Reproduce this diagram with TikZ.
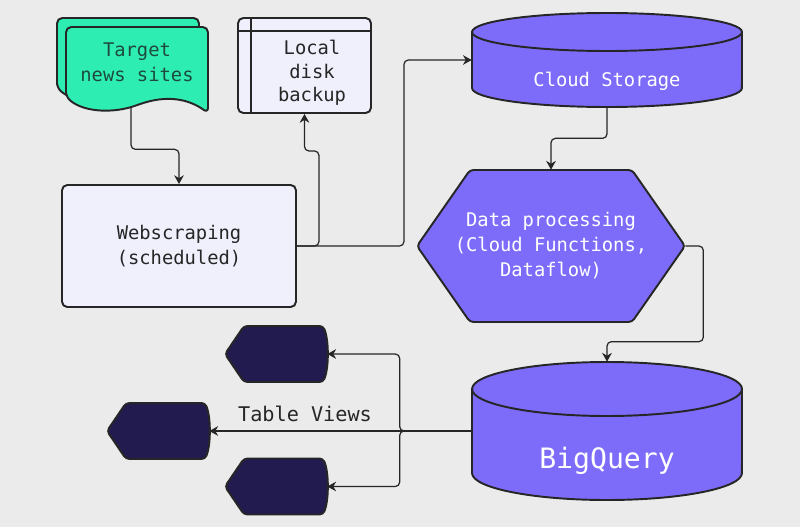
\documentclass[tikz,border=0pt]{standalone}
\usepackage{fontspec}
\setmainfont{DejaVu Sans Mono}
\usepackage{xcolor}
\usetikzlibrary{positioning,calc,arrows.meta}

\definecolor{bggray}{HTML}{EBEBEB}
\definecolor{mint}{HTML}{2EEDB3}
\definecolor{pine}{HTML}{1E4A3C}
\definecolor{lavender}{HTML}{EFF0FC}
\definecolor{violet}{HTML}{7D6CF9}
\definecolor{navy}{HTML}{211B50}
\definecolor{ink}{HTML}{262626}

\tikzset{
  txt/.style={align=center, text=ink, font=\fontsize{10.7}{14.2}\selectfont},
  wtxt/.style={txt, text=white},
  blk/.style={draw=ink, line width=1.1pt, rounded corners=3pt},
  flow/.style={draw=ink, line width=0.7pt, rounded corners=2.5pt}
}

\begin{document}
\begin{tikzpicture}[x=0.02cm, y=-0.02cm]
\fill[bggray] (0,0) rectangle (800,527);
\useasboundingbox (0,0) rectangle (800,527);

% shapes first
\begin{scope}[blk]
    % stacked pages
    \foreach \d in {9,0}
        \draw[fill=mint, shift={(-\d,-\d)}] (66,97) -- (66,27) -- (208,27) -- (208,113)
            .. controls (190,100) and (170,95) .. (140,104)
            .. controls (115,113) and (85,113) .. (66,97) -- cycle;
    % cylinders
    \foreach \t/\b/\r in {13/107/19, 362/500/27} {
        \draw[fill=violet, sharp corners] (472,\t+\r) -- (472,\b-\r)
            arc[start angle=180, end angle=360, x radius=2.7cm, y radius=\r*0.02cm]
            -- (742,\t+\r)
            arc[start angle=0, end angle=180, x radius=2.7cm, y radius=\r*0.02cm] -- cycle;
        \draw[sharp corners] (472,\t+\r)
            arc[start angle=180, end angle=360, x radius=2.7cm, y radius=\r*0.02cm];
    }
    % hexagon
    \draw[fill=violet, rounded corners=2pt] (417,246) -- (470,170) -- (632,170) -- (685,246)
        -- (632,322) -- (470,322) -- cycle;
    % table views
    \foreach \x/\y in {225/354, 107/431, 225/486.5}
        \draw[fill=navy, rounded corners=2pt] (\x,\y) -- (\x+19,\y-28) -- (\x+98,\y-28)
            .. controls (\x+104,\y-14) and (\x+104,\y+14) .. (\x+98,\y+28)
            -- (\x+19,\y+28) -- cycle;
\end{scope}

% nodes
\node[minimum width=2.84cm, minimum height=1.6cm] (target) at (137,67) {};
\node[txt, text=pine] (tgttxt) at (137,62) {Target\\news sites};

\node[blk, fill=lavender, minimum width=2.66cm, minimum height=1.9cm] (disk) at (304.5,65.5) {};
\draw[line width=1.1pt, ink] ($(disk.north west)+(14,0)$) -- ($(disk.south west)+(14,0)$)
    ($(disk.north west)+(0,14)$) -- ($(disk.north east)+(0,14)$);
\node[txt, font=\fontsize{10.7}{13.3}\selectfont] (disktxt) at (312,73) {Local\\disk\\backup};

\node[blk, fill=lavender, txt, minimum width=4.68cm, minimum height=2.44cm] (web) at (179,246) {Webscraping\\(scheduled)};

\node[minimum width=5.4cm, minimum height=1.88cm] (cs) at (607,60) {};
\node[wtxt] (cstxt) at (607,81) {Cloud Storage};

\node[wtxt, minimum width=5.36cm, minimum height=3.04cm] (hex) at (551,246) {Data processing\\(Cloud Functions,\\Dataflow)};

\node[minimum width=5.4cm, minimum height=2.76cm] (bq) at (607,431) {};
\node[wtxt, font=\fontsize{16}{19}\selectfont] (bqtxt) at (607,461) {BigQuery};

\node[minimum width=2.04cm, minimum height=1.12cm] (tv1) at (276,354) {};
\node[minimum width=2.04cm, minimum height=1.12cm] (tv2) at (158,431) {};
\node[minimum width=2.04cm, minimum height=1.12cm] (tv3) at (276,486.5) {};
\node[txt, font=\fontsize{11.5}{14}\selectfont] (tvlbl) at (305,414) {Table Views};

% connectors
\begin{scope}[>={Stealth[ink,length=5pt,width=5.5pt]}]
    \draw[flow,->] ($(target.south)+(-6,0)$) -- ++(0,42) -| (web.north);
    \draw[flow,->] (web.east) -- ++(22,0) |- ($(disk.south)+(0,37)$) -- (disk.south);
    \draw[flow,->] (web.east) -- ++(107,0) |- (cs.west);
    \draw[flow,->] (cs.south) -- ++(0,31) -| (hex.north);
    \draw[flow,->] (hex.east) -- ++(18,0) |- ($(bq.north)+(0,-20)$) -- (bq.north);
    \draw[flow,->] (bq.west) -- (tv2.east);
    \draw[flow,->] (bq.west) -- ++(-72,0) |- (tv1.east);
    \draw[flow,->] (bq.west) -- ++(-72,0) |- (tv3.east);
\end{scope}
\end{tikzpicture}
\end{document}
